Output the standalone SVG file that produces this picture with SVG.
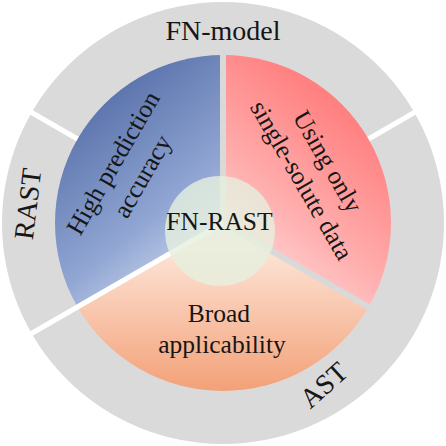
<svg xmlns="http://www.w3.org/2000/svg" width="446" height="446" viewBox="0 0 446 446">
  <style>
    .lbl { font-family: "Liberation Serif", "Times New Roman", serif; fill: #161616; }
    .outer { font-size: 28px; }
    .inner { font-size: 25.5px; }
    .gapg { stroke: #d9d9d9; stroke-width: 6; }
    .gapw { stroke: #ffffff; stroke-width: 5; }
  </style>
  <defs>
    <linearGradient id="gBlue" gradientUnits="userSpaceOnUse" x1="70" y1="120" x2="215" y2="300">
      <stop offset="0" stop-color="#5a73ac"/>
      <stop offset="0.55" stop-color="#91a6d3"/>
      <stop offset="1" stop-color="#e4eaf7"/>
    </linearGradient>
    <linearGradient id="gPink" gradientUnits="userSpaceOnUse" x1="376" y1="120" x2="231" y2="300">
      <stop offset="0" stop-color="#ff7b7b"/>
      <stop offset="0.55" stop-color="#ffb0b0"/>
      <stop offset="1" stop-color="#ffe9e9"/>
    </linearGradient>
    <linearGradient id="gOrange" gradientUnits="userSpaceOnUse" x1="223" y1="392" x2="223" y2="245">
      <stop offset="0" stop-color="#f3a077"/>
      <stop offset="1" stop-color="#fde6d9"/>
    </linearGradient>
  </defs>

  <g id="ring">
    <circle cx="223" cy="223" r="221" fill="#dadada"/>
  </g>

  <g id="sector-accuracy">
    <path d="M223,223 L223,55 A168,168 0 0 0 77.51,307 Z" fill="url(#gBlue)"/>
  </g>
  <g id="sector-single-solute">
    <path d="M223,223 L368.49,307 A168,168 0 0 0 223,55 Z" fill="url(#gPink)"/>
  </g>
  <g id="sector-applicability">
    <path d="M223,223 L77.51,307 A168,168 0 0 0 368.49,307 Z" fill="url(#gOrange)"/>
  </g>

  <g id="connectors">
    <line class="gapg" x1="223" y1="223" x2="223" y2="50"/>
    <line class="gapg" x1="223" y1="223" x2="370.2" y2="308"/>
    <line class="gapw" x1="223" y1="223" x2="15" y2="343"/>
    <line class="gapw" x1="368.5" y1="139" x2="430" y2="103.5"/>
    <line class="gapw" x1="77.5" y1="139" x2="16" y2="103.5"/>
  </g>

  <g id="center-fn-rast">
    <circle cx="220" cy="231" r="55" fill="#e6f0de" fill-opacity="0.8"/>
    <text class="lbl inner" x="219.5" y="230" text-anchor="middle">FN-RAST</text>
  </g>

  <g id="label-fn-model">
    <text class="lbl outer" x="223" y="40" text-anchor="middle">FN-model</text>
  </g>
  <g id="label-rast">
    <text class="lbl outer" text-anchor="middle" transform="translate(37,205) rotate(-83)">RAST</text>
  </g>
  <g id="label-ast">
    <text class="lbl outer" text-anchor="middle" transform="translate(330,392) rotate(-42)">AST</text>
  </g>

  <g id="text-accuracy">
    <text class="lbl inner" text-anchor="middle" transform="translate(128,168) rotate(-60)">
      <tspan x="0" y="-7">High prediction</tspan>
      <tspan x="0" y="25">accuracy</tspan>
    </text>
  </g>
  <g id="text-single-solute">
    <text class="lbl inner" text-anchor="middle" transform="translate(316,172) rotate(60)">
      <tspan x="0" y="-7">Using only</tspan>
      <tspan x="0" y="25">single-solute data</tspan>
    </text>
  </g>
  <g id="text-applicability">
    <text class="lbl inner" text-anchor="middle">
      <tspan x="222" y="322">Broad</tspan>
      <tspan x="222" y="353">applicability</tspan>
    </text>
  </g>
</svg>
